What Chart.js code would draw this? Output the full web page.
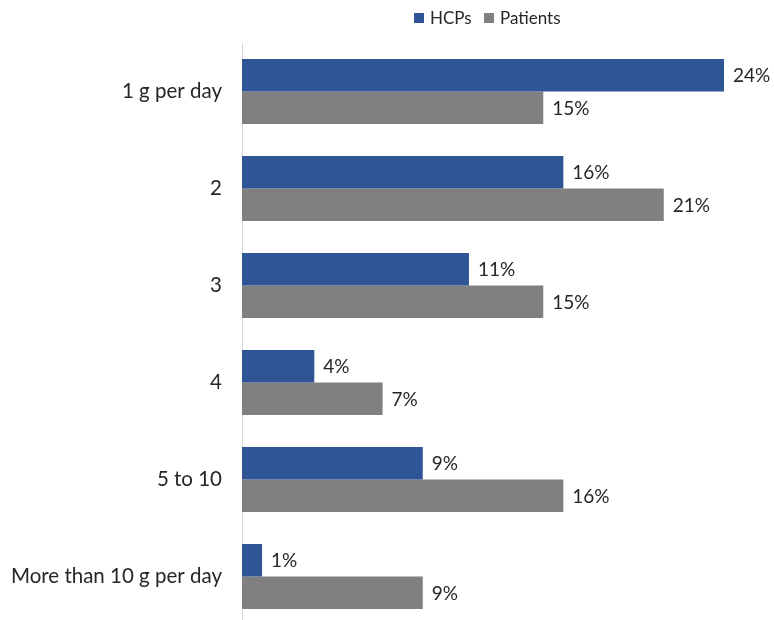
<!DOCTYPE html>
<html>
<head>
<meta charset="utf-8">
<script src="https://cdn.jsdelivr.net/npm/chart.js@4.4.1/dist/chart.umd.min.js"></script>
<style>
html,body{margin:0;padding:0;background:#fff;overflow:hidden;}
#wrap{position:relative;width:774px;height:620px;overflow:hidden;}
</style>
</head>
<body>
<div id="wrap"><canvas id="c" width="774" height="625"></canvas></div>
<script>
const categories = ["1 g per day", "2", "3", "4", "5 to 10", "More than 10 g per day"];
const seriesNames = ["HCPs", "Patients"];
const hcpValues = [24, 16, 11.3, 3.6, 9, 1];
const patientValues = [15, 21, 15, 7, 16, 9];
const seriesColors = ["#2F5597", "#808080"];

const FONT = "Lato, 'Open Sans', sans-serif";
const TEXT = "#262626";

const valueLabels = {
  id: 'valueLabels',
  afterDatasetsDraw(chart) {
    const ctx = chart.ctx;
    ctx.save();
    ctx.font = "19px " + FONT;
    ctx.fillStyle = TEXT;
    ctx.textBaseline = 'middle';
    ctx.textAlign = 'left';
    chart.data.datasets.forEach((ds, i) => {
      const meta = chart.getDatasetMeta(i);
      meta.data.forEach((bar, j) => {
        ctx.fillText(Math.round(ds.data[j]) + '%', bar.x + 9, bar.y + 1);
      });
    });
    ctx.restore();
  }
};

const customLegend = {
  id: 'customLegend',
  afterDraw(chart) {
    const ctx = chart.ctx;
    ctx.save();
    ctx.font = "17px " + FONT;
    ctx.textBaseline = 'middle';
    ctx.textAlign = 'left';
    const y = 18;
    let x = 414;
    chart.data.datasets.forEach((ds, i) => {
      ctx.fillStyle = ds.backgroundColor;
      ctx.fillRect(x, y - 5, 10, 10);
      ctx.fillStyle = TEXT;
      ctx.fillText(ds.label, x + 16, y + 1);
      x += 70;
    });
    ctx.restore();
  }
};

new Chart(document.getElementById('c'), {
  type: 'bar',
  data: {
    labels: categories,
    datasets: [
      { label: seriesNames[0], data: hcpValues, backgroundColor: seriesColors[0] },
      { label: seriesNames[1], data: patientValues, backgroundColor: seriesColors[1] }
    ]
  },
  options: {
    indexAxis: 'y',
    responsive: false,
    animation: false,
    devicePixelRatio: 1,
    layout: { padding: { top: 43, right: 50, bottom: 0, left: 0 } },
    datasets: { bar: { categoryPercentage: 0.67, barPercentage: 1.0 } },
    scales: {
      x: { display: false, min: 0, max: 24 },
      y: {
        grid: { display: false, drawTicks: false },
        border: { display: true, color: '#d9d9d9', width: 1 },
        ticks: { color: TEXT, font: { family: FONT, size: 20.5 }, padding: 20 },
        afterFit(scale) { scale.width = 242; scale.paddingTop = 0; scale.paddingBottom = 0; }
      }
    },
    plugins: {
      legend: { display: false },
      tooltip: { enabled: false }
    }
  },
  plugins: [valueLabels, customLegend]
});
</script>
</body>
</html>
